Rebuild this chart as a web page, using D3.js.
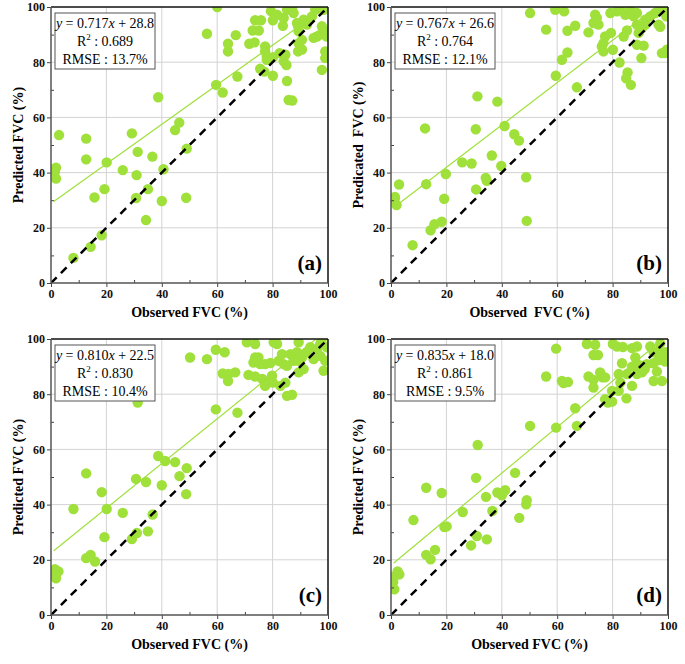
<!DOCTYPE html>
<html>
<head>
<meta charset="utf-8">
<script src="https://cdn.jsdelivr.net/npm/d3@7"></script>
<style>
  body { margin: 0; background: #fff; }
  text { font-family: "Liberation Serif", "Times New Roman", serif; }
</style>
</head>
<body>
<div id="chart"></div>
<script>
// Data: [observed, predicted]
var pointsA = [[60,100],[56.3,90.3],[66.7,89.8],[63.9,86.7],[63.9,83.9],[71.6,86.7],[73.5,87.2],[72.8,91.5],[75,91.5],[73.7,95.2],
  [75.8,95.2],[77.3,85.7],[77.3,83.9],[77.9,82],[77.9,80.9],[75.5,77.6],[77,76.6],[80.1,75.1],[67.3,74.8],[59.6,71.8],
  [62,69],[85.2,73.2],[85.8,66.3],[87.1,66.1],[82.5,83.3],[84,80.3],[85,79],[80.1,81.8],[84.6,82.7],[79.4,98.5],
  [81.6,97.2],[80.1,95.2],[83.7,93.2],[84,96],[85.2,99],[87.6,97.8],[87,99.6],[88.8,94.2],[89.4,91.2],[89.2,93],
  [89.4,86.9],[89.2,83.9],[90.6,88.1],[90.6,84.6],[91.2,95.4],[92.4,93.6],[95.4,99],[97.2,99.6],[98.4,99],[94.8,88.8],
  [96,89.3],[97.2,90],[97.8,93],[99,91.2],[97.8,77.2],[99,81.5],[99,83.9],[94.2,96.6],[100,90.6],[99.6,89.3],
  [8.1,9.1],[14.3,13.1],[18.3,17.3],[34.3,22.8],[40,29.7],[48.8,30.9],[15.7,31],[30.7,30.8],[35,34],[19.3,34],
  [30.9,39.1],[1.8,37.8],[1.8,41.8],[1.4,40.3],[2.9,53.6],[12.7,52.3],[12.7,44.8],[20.1,43.7],[25.9,40.9],[29.2,54.2],
  [31.3,47.5],[36.6,45.8],[40.6,41.2],[38.7,67.3],[44.8,55.4],[46.3,58.1],[49,48.7]];

var pointsB = [[50.2,97.8],[59.3,99],[62.5,98.4],[56,91.8],[66.5,93.2],[63.7,91.4],[63.7,83.5],[61.7,80.9],[59.5,75.1],[67.1,70.9],
  [71.3,90.8],[73.1,94.2],[73.7,97.2],[74.3,96],[74.9,93.6],[77.3,89.3],[76.7,86.9],[76.1,85.7],[76.7,83.9],[79.4,90.6],
  [80.1,84.5],[82.5,79.9],[85.4,76.3],[84.9,74.2],[86.6,71.8],[84,89.3],[85.2,91.5],[79.2,97.8],[81.6,98.4],[82.8,99],
  [84.6,97.2],[86.4,99],[87.6,96.6],[88.8,97.8],[88.8,93.6],[89.4,90.6],[90.6,92.4],[88.8,86.3],[91.2,86],[90.4,81.5],
  [91.8,95.4],[93.6,96.6],[95.4,97.8],[96.6,93.6],[97.2,92.8],[97.2,99],[99,99.6],[97.8,83.3],[99,83.3],[99.6,84.5],
  [99.4,96.6],[91.8,93.6],
  [7.8,13.7],[14.3,19.1],[15.7,21.3],[18.3,22.2],[19.2,30.5],[49,22.5],[48.8,38.3],[30.7,33.9],[34.2,38.1],[34.6,37],
  [39.8,42.4],[36.4,46.2],[25.7,43.7],[29.1,43.3],[19.8,39.5],[12.7,35.8],[1.4,31.2],[1.4,30.6],[2,28.2],[2.9,35.7],
  [0.8,30.3],[12.3,56],[30.6,55.7],[31.2,67.6],[38.4,65.7],[41,56.9],[44.5,53.9],[46.2,51.6]];

var pointsC = [[50.2,93.3],[56.3,92.7],[59.5,96.1],[62.7,95.2],[59.5,74.5],[67.3,73.3],[62,87.5],[64.1,87.3],[66.5,87.9],[63.9,84.8],
  [70.7,98.8],[73.7,98.2],[73.7,93.3],[74.9,93.3],[73.1,91.5],[75.5,90.9],[77.3,90.9],[79.2,91.3],[71.3,87],[73.7,86.4],
  [76.3,85.5],[77.3,83],[77.9,84.2],[79.8,86.7],[80.1,84.2],[80.4,98.8],[81.6,98.2],[82.2,92.1],[83.4,94.5],[84,90.9],
  [84.6,84.2],[85.2,79.4],[87,79.8],[82.8,83],[85.2,90.3],[86.4,94.5],[87.6,93.3],[88.8,95.2],[89.4,98.8],[89.4,87.9],
  [87.6,92.1],[89.4,92.1],[90.6,93.3],[91.2,89.1],[92.4,95.2],[93.6,97],[94.8,92.7],[96,96.4],[97.2,93.9],[97.2,98.2],
  [98.4,88.5],[99,92.1],[99.6,97],[97.8,100],
  [1.8,13.3],[1.1,14.2],[2.7,15.8],[1.4,16.6],[12.7,20.6],[14.3,21.8],[15.9,19.4],[19.3,28.2],[29.2,27.5],[31,29.7],
  [35,30.3],[8.1,38.4],[12.7,51.3],[18.3,44.5],[20.1,38.4],[25.9,37],[30.7,49.3],[31.3,77],[34.3,48.2],[36.7,36.4],
  [38.7,57.6],[40,47],[41.2,55.8],[44.8,55.4],[46.4,50.3],[49,53.2],[48.8,43.8]];

var pointsD = [[59.6,96.5],[56,86.4],[61.7,84.8],[62.3,84],[63.9,84.4],[50.2,68.5],[59.6,67.9],[66.5,74.9],[67.1,68.5],[70.7,98.2],
  [73.7,97.9],[73.1,94.2],[74.7,94.2],[71.3,86.4],[73.1,85.2],[73.1,82.4],[75.5,87.9],[76.3,86.1],[77.3,86.1],[77.3,78.2],
  [78.3,77],[79.8,77.3],[79.8,81.2],[80.1,98.2],[81.6,97.3],[83.7,97.1],[82.2,87.3],[82.8,84.2],[82.2,81.2],[83.4,91.2],
  [85,78.5],[85.2,87.3],[87,83],[87,96.7],[88.8,97.3],[88.2,93.3],[88.8,90.9],[88.8,87.3],[90.6,87.9],[90.4,90.3],
  [91.6,89.1],[92.4,90.9],[93.6,97.3],[94.8,95.2],[96.6,95.8],[94.8,84.8],[96,88.2],[94.8,91.2],[96.6,92.4],[97.8,94.5],
  [99,95.2],[97.8,84.8],[99,91.8],[97.2,98.4],[87,90],
  [1.2,9.3],[0.8,12],[0.8,13.8],[2.4,15.8],[3,14.7],[12.7,21.8],[14.3,20.2],[15.9,23.6],[8.1,34.4],[12.7,46.1],
  [18.3,44.2],[19.3,31.9],[20.1,32.1],[25.9,37.3],[28.9,25.2],[31,28.6],[30.7,49.7],[31.3,61.6],[34.6,27.4],[34.3,42.8],
  [36.6,37.7],[38.4,44.4],[40,43.4],[41.2,45.2],[44.8,51.5],[46.3,35.2],[48.8,40.1],[49,41.6]];

var panelData = [pointsA, pointsB, pointsC, pointsD];
var panelLabels = ["(a)", "(b)", "(c)", "(d)"];
var slopes = [0.717, 0.767, 0.810, 0.835];
var intercepts = [28.8, 26.6, 22.5, 18.0];
var r2Values = ["0.689", "0.764", "0.830", "0.861"];
var rmseValues = ["13.7%", "12.1%", "10.4%", "9.5%"];
var xTitles = ["Observed FVC (%)", "Observed  FVC (%)", "Observed FVC (%)", "Observed FVC (%)"];
var yTitles = ["Predicted FVC (%)", "Predicated  FVC (%)", "Predicted FVC (%)", "Predicted FVC (%)"];
var majorTicks = [0, 20, 40, 60, 80, 100];
var minorTicks = [10, 30, 50, 70, 90];

// Layout
var svgWidth = 685;
var svgHeight = 664;
var plotW = 277;
var plotH = 276;
var origins = [[51, 7], [391, 7], [51, 339], [391, 339]];
var green = "#9fe03a";

var svg = d3.select("#chart")
  .append("svg")
  .attr("width", svgWidth)
  .attr("height", svgHeight);

var xScale = d3.scaleLinear().domain([0, 100]).range([0, plotW]);
var yScale = d3.scaleLinear().domain([0, 100]).range([plotH, 0]);

panelData.forEach(function(points, i) {
  var g = svg.append("g")
    .attr("transform", `translate(${origins[i][0]}, ${origins[i][1]})`);

  g.append("clipPath").attr("id", "clip" + i)
    .append("rect").attr("width", plotW).attr("height", plotH);

  // grid
  g.selectAll(".gx").data(majorTicks.slice(1, -1)).enter().append("line")
    .attr("x1", d => xScale(d)).attr("x2", d => xScale(d))
    .attr("y1", 0).attr("y2", plotH)
    .attr("stroke", "#d3d3d3").attr("stroke-width", 1);
  g.selectAll(".gy").data(majorTicks.slice(1, -1)).enter().append("line")
    .attr("x1", 0).attr("x2", plotW)
    .attr("y1", d => yScale(d)).attr("y2", d => yScale(d))
    .attr("stroke", "#d3d3d3").attr("stroke-width", 1);

  var inner = g.append("g").attr("clip-path", `url(#clip${i})`);

  // points
  inner.selectAll("circle")
    .data(points)
    .enter()
    .append("circle")
    .attr("cx", d => xScale(d[0]))
    .attr("cy", d => yScale(d[1]))
    .attr("r", 5.2)
    .attr("fill", green);

  // fitted line
  var fit = [1, 100].map(x => [x, slopes[i] * x + intercepts[i]]);
  inner.append("path")
    .attr("d", d3.line().x(d => xScale(d[0])).y(d => yScale(d[1]))(fit))
    .attr("stroke", green).attr("stroke-width", 1.2).attr("fill", "none");

  // 1:1 line
  inner.append("line")
    .attr("x1", xScale(0)).attr("y1", yScale(0))
    .attr("x2", xScale(100)).attr("y2", yScale(100))
    .attr("stroke", "#000").attr("stroke-width", 2.5)
    .attr("stroke-dasharray", "8,6");

  // axes
  var bottomAxis = d3.axisBottom(xScale).tickValues(majorTicks).tickSize(4).tickPadding(2);
  var leftAxis = d3.axisLeft(yScale).tickValues(majorTicks).tickSize(4).tickPadding(2);

  var xa = g.append("g").attr("transform", `translate(0, ${plotH})`).call(bottomAxis);
  var ya = g.append("g").call(leftAxis);
  [xa, ya].forEach(function(a) {
    a.select(".domain").remove();
    a.selectAll("line").attr("stroke", "#444");
    a.selectAll("text")
      .style("font-family", "'Liberation Serif', serif")
      .style("font-weight", "bold")
      .style("font-size", "12px")
      .attr("fill", "#111");
  });

  g.append("g").attr("transform", `translate(0, ${plotH})`)
    .call(d3.axisBottom(xScale).tickValues(minorTicks).tickSize(-3).tickFormat(""))
    .call(a => a.select(".domain").remove())
    .selectAll("line").attr("stroke", "#444");
  g.append("g")
    .call(d3.axisLeft(yScale).tickValues(minorTicks).tickSize(-3).tickFormat(""))
    .call(a => a.select(".domain").remove())
    .selectAll("line").attr("stroke", "#444");

  // frame
  g.append("line").attr("x1", 0).attr("x2", plotW).attr("y1", 0).attr("y2", 0)
    .attr("stroke", "#111").attr("stroke-width", 1.5);
  g.append("line").attr("x1", plotW).attr("x2", plotW).attr("y1", 0).attr("y2", plotH)
    .attr("stroke", "#111").attr("stroke-width", 1.5);
  g.append("line").attr("x1", 0).attr("x2", 0).attr("y1", 0).attr("y2", plotH)
    .attr("stroke", "#555").attr("stroke-width", 1.5);
  g.append("line").attr("x1", 0).attr("x2", plotW).attr("y1", plotH).attr("y2", plotH)
    .attr("stroke", "#555").attr("stroke-width", 1.5);

  // equation box
  var box = g.append("g").attr("transform", "translate(4, 6)");
  box.append("rect")
    .attr("width", 100).attr("height", 56)
    .attr("fill", "#fff").attr("stroke", "#555").attr("stroke-width", 1);
  var eq = box.append("text").attr("x", 50).attr("y", 15)
    .attr("text-anchor", "middle").style("font-size", "14px");
  eq.append("tspan").style("font-style", "italic").text("y");
  eq.append("tspan").text(" = " + slopes[i].toFixed(3));
  eq.append("tspan").style("font-style", "italic").text("x");
  eq.append("tspan").text(" + " + intercepts[i].toFixed(1));

  var r2 = box.append("text").attr("x", 50).attr("y", 33)
    .attr("text-anchor", "middle").style("font-size", "14px");
  r2.append("tspan").text("R");
  r2.append("tspan").attr("dy", -6).style("font-size", "9px").text("2");
  r2.append("tspan").attr("dy", 6).text(" : " + r2Values[i]);

  box.append("text").attr("x", 50).attr("y", 51)
    .attr("text-anchor", "middle").style("font-size", "14px")
    .text("RMSE : " + rmseValues[i]);

  // panel label
  g.append("text")
    .attr("x", plotW - 6).attr("y", plotH - 13)
    .attr("text-anchor", "end")
    .style("font-size", "21px").style("font-weight", "bold")
    .text(panelLabels[i]);

  // axis titles
  g.append("text")
    .attr("x", plotW / 2).attr("y", plotH + 34)
    .attr("text-anchor", "middle")
    .style("font-size", "14px").style("font-weight", "bold")
    .style("white-space", "pre")
    .text(xTitles[i]);

  g.append("text")
    .attr("transform", `translate(-28, ${plotH / 2}) rotate(-90)`)
    .attr("text-anchor", "middle")
    .style("font-size", "14px").style("font-weight", "bold")
    .style("white-space", "pre")
    .text(yTitles[i]);
});
</script>
</body>
</html>
